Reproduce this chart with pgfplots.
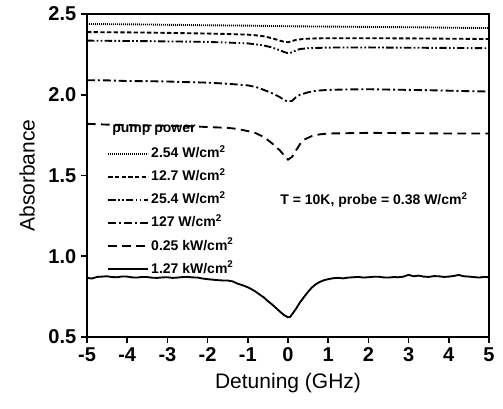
\documentclass[border=0pt]{standalone}
\usepackage{fontspec}
\setmainfont{Liberation Sans}
\usepackage{pgfplots}
\pgfplotsset{compat=1.18}
\begin{document}
\begin{tikzpicture}
\useasboundingbox (-65.25pt,-54pt) rectangle (312pt,252.75pt);
\begin{axis}[
  name=ax, at={(0pt,0pt)}, anchor=south west,
  scale only axis,
  width=301.5pt, height=242.25pt,
  xmin=-5, xmax=5, ymin=0.5, ymax=2.5,
  xtick={-5,-4,-3,-2,-1,0,1,2,3,4,5},
  xticklabels={-5,-4,-3,-2,-1,0,1,2,3,4,5},
  ytick={0.5,1.0,1.5,2.0,2.5},
  yticklabels={0.5,1.0,1.5,2.0,2.5},
  tick align=outside, xtick pos=bottom, ytick pos=left,
  major tick length=4.5pt,
  axis line style={line width=1.3pt, black},
  every tick/.style={line width=1.3pt, black},
  tick label style={font=\bfseries\fontsize{15}{15}\selectfont},
  xlabel={Detuning (GHz)}, ylabel={Absorbance},
  label style={font=\fontsize{15.75}{16}\selectfont, inner sep=0pt},
  xlabel style={at={(axis description cs:0.5,-0.158)}, anchor=base},
  ylabel style={at={(axis description cs:-0.149,0.5)}, anchor=center},
  legend cell align=left,
  legend image code/.code={\draw[#1] (0pt,0pt) -- (30pt,0pt);},
  legend style={at={(axis cs:-4.5,1.69)}, anchor=north west, draw=none, fill=none,
    inner sep=0pt, row sep=4.3pt, column sep=0pt,
    font=\bfseries\fontsize{10.5}{11}\selectfont,
    nodes={inner sep=1.5pt, text height=8pt, text depth=2pt}},
  every axis plot/.append style={line width=1.4pt, black},
]
\addplot[dash pattern=on 0.7pt off 0.8pt] coordinates {
(-5,2.438)(-4.5,2.437)(-4,2.436)(-3.5,2.435)(-3,2.433)(-2.5,2.432)(-2,2.430)(-1.5,2.429)(-1,2.428)(-0.5,2.426)(0,2.424)(0.5,2.423)(1,2.422)(1.5,2.421)(2,2.420)(2.5,2.419)(3,2.418)(3.5,2.417)(4,2.415)(4.5,2.414)(5,2.413)};
\addlegendentry{2.54 W/cm\textsuperscript{2}}
\addplot[dash pattern=on 3.2pt off 1.8pt] coordinates {
(-5,2.388)(-4.5,2.387)(-4,2.386)(-3.5,2.385)(-3,2.383)(-2.5,2.381)(-2,2.379)(-1.5,2.376)(-1,2.372)(-0.8,2.368)(-0.6,2.362)(-0.4,2.350)(-0.2,2.335)(-0.1,2.328)(0,2.325)(0.1,2.332)(0.2,2.340)(0.4,2.346)(0.7,2.349)(1,2.350)(2,2.350)(3,2.349)(4,2.347)(5,2.345)};
\addlegendentry{12.7 W/cm\textsuperscript{2}}
\addplot[dash pattern=on 5.5pt off 1.8pt on 1.2pt off 1.8pt on 1.2pt off 1.8pt] coordinates {
(-5,2.335)(-4.5,2.334)(-4,2.333)(-3.5,2.332)(-3,2.330)(-2.5,2.329)(-2,2.327)(-1.5,2.323)(-1,2.318)(-0.8,2.312)(-0.6,2.305)(-0.4,2.293)(-0.2,2.275)(-0.1,2.265)(0,2.257)(0.1,2.262)(0.2,2.275)(0.3,2.283)(0.5,2.288)(1,2.292)(2,2.293)(3,2.291)(4,2.290)(5,2.288)};
\addlegendentry{25.4 W/cm\textsuperscript{2}}
\addplot[dash pattern=on 6pt off 2.2pt on 1.5pt off 2.2pt] coordinates {
(-5,2.090)(-4.5,2.089)(-4,2.085)(-3.5,2.084)(-3,2.082)(-2.5,2.078)(-2,2.075)(-1.5,2.068)(-1,2.058)(-0.8,2.048)(-0.6,2.030)(-0.4,2.010)(-0.2,1.985)(-0.1,1.968)(0,1.957)(0.1,1.962)(0.2,1.985)(0.3,2.000)(0.5,2.015)(0.7,2.025)(1,2.030)(1.5,2.033)(2,2.034)(2.5,2.032)(3,2.030)(3.5,2.028)(4,2.025)(4.5,2.022)(5,2.020)};
\addlegendentry{127 W/cm\textsuperscript{2}}
\addplot[dash pattern=on 6.5pt off 4pt] coordinates {
(-5,1.820)(-4.5,1.815)(-4,1.812)(-3.5,1.810)(-3,1.808)(-2.5,1.806)(-2,1.800)(-1.5,1.795)(-1.25,1.788)(-1,1.775)(-0.8,1.762)(-0.6,1.738)(-0.4,1.700)(-0.2,1.655)(-0.1,1.625)(0,1.598)(0.1,1.615)(0.2,1.655)(0.3,1.695)(0.4,1.722)(0.6,1.745)(0.8,1.755)(1,1.760)(1.5,1.762)(2,1.764)(2.5,1.763)(3,1.762)(3.5,1.761)(4,1.760)(4.5,1.760)(5,1.760)};
\addlegendentry{0.25 kW/cm\textsuperscript{2}}
\addplot[solid] coordinates {
(-5,0.866)(-4.875,0.862)(-4.75,0.872)(-4.625,0.874)(-4.5,0.876)(-4.375,0.871)(-4.25,0.870)(-4.125,0.875)(-4,0.874)(-3.875,0.869)(-3.75,0.868)(-3.625,0.872)(-3.5,0.871)(-3.375,0.867)(-3.25,0.866)(-3.125,0.869)(-3,0.870)(-2.875,0.866)(-2.75,0.868)(-2.625,0.871)(-2.5,0.872)(-2.375,0.869)(-2.25,0.868)(-2.125,0.862)(-2,0.858)(-1.875,0.855)(-1.75,0.852)(-1.625,0.850)(-1.5,0.850)(-1.375,0.844)(-1.25,0.830)(-1.125,0.820)(-1,0.808)(-0.9,0.795)(-0.8,0.780)(-0.7,0.762)(-0.6,0.745)(-0.5,0.722)(-0.4,0.702)(-0.3,0.680)(-0.2,0.657)(-0.1,0.636)(0,0.622)(0.05,0.624)(0.1,0.640)(0.2,0.675)(0.3,0.715)(0.4,0.748)(0.5,0.780)(0.6,0.808)(0.7,0.828)(0.8,0.842)(0.9,0.852)(1,0.858)(1.125,0.864)(1.25,0.866)(1.375,0.863)(1.5,0.868)(1.625,0.870)(1.75,0.872)(1.875,0.868)(2,0.870)(2.125,0.873)(2.25,0.873)(2.375,0.869)(2.5,0.868)(2.625,0.871)(2.75,0.870)(2.875,0.874)(3,0.885)(3.125,0.876)(3.25,0.880)(3.375,0.874)(3.5,0.872)(3.625,0.877)(3.75,0.876)(3.875,0.872)(4,0.874)(4.125,0.878)(4.25,0.884)(4.375,0.876)(4.5,0.874)(4.625,0.871)(4.75,0.868)(4.875,0.872)(5,0.870)};
\addlegendentry{1.27 kW/cm\textsuperscript{2}}
\node[anchor=west, inner sep=0pt, font=\bfseries\fontsize{10.5}{11}\selectfont] at (axis cs:-4.378,1.782) {pump power};
\node[anchor=center, inner sep=0pt, font=\bfseries\fontsize{10.5}{11}\selectfont] at (axis cs:2.14,1.348) {T = 10K, probe = 0.38 W/cm\textsuperscript{2}};
\end{axis}
\fill[black] (-0.65pt,241.6pt) rectangle (302.15pt,242.9pt);
\fill[black] (300.85pt,-0.65pt) rectangle (302.15pt,242.9pt);
\end{tikzpicture}
\end{document}
